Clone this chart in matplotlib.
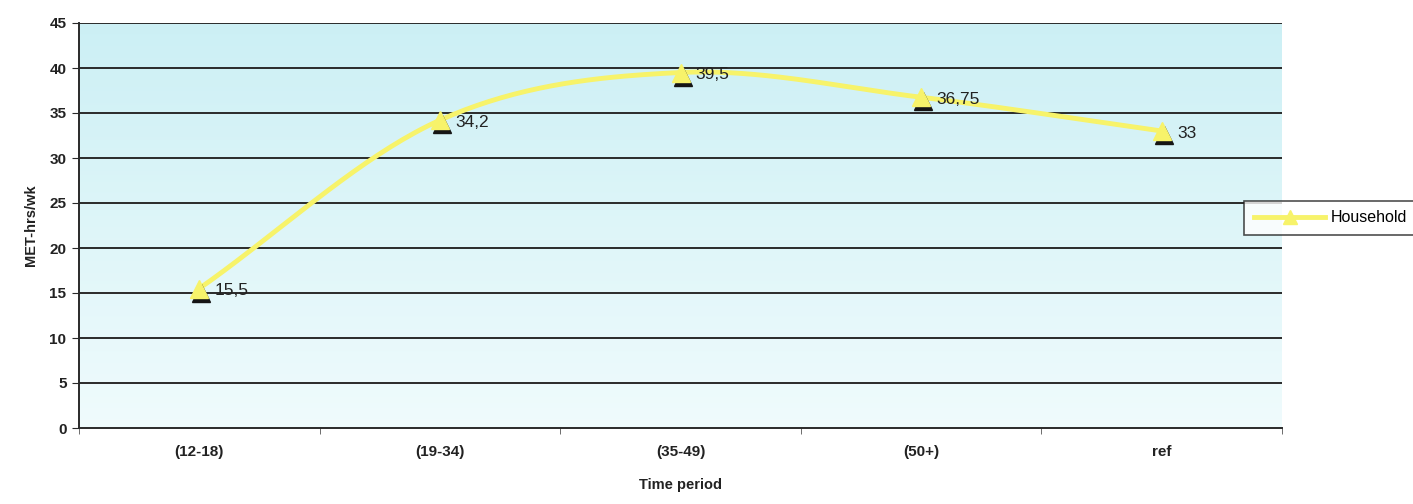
import numpy as np
import matplotlib
matplotlib.use("Agg")
import matplotlib.pyplot as plt
import matplotlib.transforms as mtransforms
from matplotlib.lines import Line2D

categories = ["(12-18)", "(19-34)", "(35-49)", "(50+)", "ref"]
household = [15.5, 34.2, 39.5, 36.75, 33.0]
labels = ["15,5", "34,2", "39,5", "36,75", "33"]
series_name = "Household"

plt.rcParams['font.family'] = ['Liberation Sans', 'DejaVu Sans']

fig = plt.figure(figsize=(14.13, 5.04), dpi=100)
ax = fig.add_axes([79/1413, 76/504, (1282-79)/1413, (428-23)/504])

x = np.arange(len(categories))
ax.set_xlim(-0.5, len(categories) - 0.5)
ax.set_ylim(0, 45)

# gradient background
grad = np.linspace(0, 1, 256).reshape(-1, 1)
top = np.array([0.80, 0.94, 0.96])
bot = np.array([0.94, 0.985, 0.99])
img = top[None, None, :] * (1 - grad[:, :, None]) + bot[None, None, :] * grad[:, :, None]
ax.imshow(img, aspect='auto', extent=(-0.5, len(categories) - 0.5, 0, 45), origin='upper', zorder=0)

for yv in range(5, 46, 5):
    ax.axhline(yv, color='#2a2a2a', lw=1.4, zorder=1)

# Catmull-Rom smooth curve through data
def catmull(px, py, n=40):
    px = np.asarray(px, float); py = np.asarray(py, float)
    P = np.column_stack([px, py])
    P = np.vstack([P[0] - (P[1] - P[0]), P, P[-1] + (P[-1] - P[-2])])
    out = []
    for i in range(1, len(P) - 2):
        p0, p1, p2, p3 = P[i - 1], P[i], P[i + 1], P[i + 2]
        t = np.linspace(0, 1, n)[:, None]
        c = 0.5 * ((2 * p1) + (-p0 + p2) * t + (2 * p0 - 5 * p1 + 4 * p2 - p3) * t ** 2
                   + (-p0 + 3 * p1 - 3 * p2 + p3) * t ** 3)
        out.append(c)
    c = np.vstack(out)
    return c[:, 0], c[:, 1]

yellow = '#f7f36a'
sx, sy = catmull(x, household)
ax.plot(sx, sy, color=yellow, lw=3.5, zorder=3, solid_capstyle='round')

shadow = mtransforms.offset_copy(ax.transData, fig=fig, x=2, y=-4, units='dots')
ax.plot(x, household, linestyle='none', marker='^', markersize=13, color='#151515',
        transform=shadow, zorder=4)
ax.plot(x, household, linestyle='none', marker='^', markersize=13, color=yellow,
        markeredgecolor=yellow, zorder=5)

for xi, yi, lb in zip(x, household, labels):
    ax.annotate(lb, (xi, yi), xytext=(11, -1.5), textcoords='offset points',
                fontsize=12.5, color='#222222', va='center', ha='left', zorder=6)

for s in ['top', 'right']:
    ax.spines[s].set_visible(False)
for s in ['left', 'bottom']:
    ax.spines[s].set_color('#2a2a2a')
    ax.spines[s].set_linewidth(1.4)

ax.set_yticks(range(0, 46, 5))
ax.tick_params(axis='y', direction='out', length=5, color='#2a2a2a', labelsize=11,
               labelcolor='#222222', pad=4)
ax.set_xticks(x)
ax.set_xticklabels(categories, fontsize=11, color='#222222', fontweight='bold')
ax.set_xticks(np.arange(-0.5, len(categories)), minor=True)
ax.tick_params(axis='x', which='major', length=0, pad=12)
ax.tick_params(axis='x', which='minor', direction='out', length=4, color='#555555')
for t in ax.get_yticklabels():
    t.set_fontweight('bold')

ax.set_ylabel('MET-hrs/wk', fontsize=10.5, fontweight='bold', color='#222222', labelpad=8)
ax.set_xlabel('Time period', fontsize=10.5, fontweight='bold', color='#222222', labelpad=14)

handle = Line2D([], [], color=yellow, lw=3.5, marker='^', markersize=10,
                markerfacecolor=yellow, markeredgecolor=yellow)
leg = fig.legend([handle], [series_name], loc='center left',
                 bbox_to_anchor=(1244/1413, (504-218)/504), frameon=True, fancybox=False,
                 fontsize=11.5, handlelength=4.5, handletextpad=0.3, borderpad=0.6,
                 borderaxespad=0, edgecolor='#222222')
leg.get_frame().set_linewidth(1.2)

fig.savefig('out.png', dpi=100, facecolor='white')
